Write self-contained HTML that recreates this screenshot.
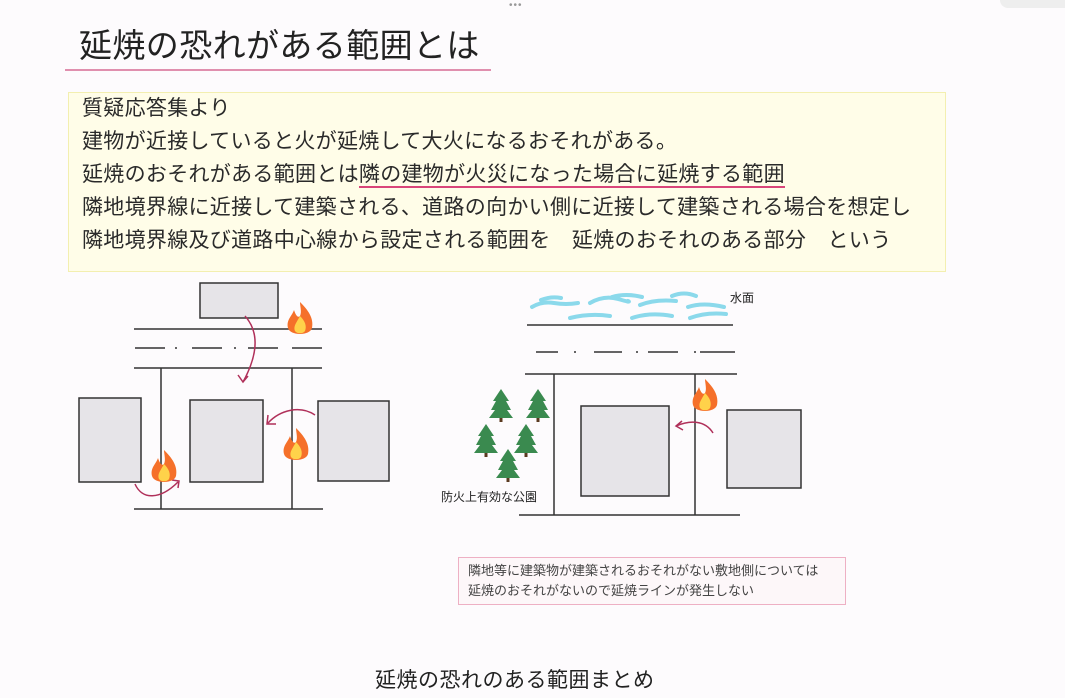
<!DOCTYPE html>
<html><head><meta charset="utf-8"><style>
body{margin:0;width:1065px;height:698px;background:#fdfbfd;overflow:hidden;position:relative;font-family:"Liberation Sans","Noto Sans CJK JP",sans-serif;color:#222}
.t{position:absolute;white-space:nowrap}
</style></head><body>
<div class="t" style="left:509px;top:0;font-size:10px;color:#999;letter-spacing:1px">•••</div>
<div style="position:absolute;left:1000px;top:0;width:65px;height:8px;background:#eee;border-radius:0 0 0 8px"></div>
<div class="t" style="left:79px;top:19px;font-size:33px;letter-spacing:0.4px;color:#222">延焼の恐れがある範囲とは</div>
<div style="position:absolute;left:65px;top:69px;width:426px;height:2px;background:#e08fae"></div>
<div style="position:absolute;left:68px;top:92px;width:876px;height:178px;background:#fffde8;border:1px solid #f3efb0"></div>
<div class="t" style="left:82px;top:92px;font-size:21px;line-height:33px;color:#2a2a2a;letter-spacing:0.3px">質疑応答集より<br>建物が近接していると火が延焼して大火になるおそれがある。<br>延焼のおそれがある範囲とは<span style="border-bottom:2px solid #d9457a">隣の建物が火災になった場合に延焼する範囲</span><br>隣地境界線に近接して建築される、道路の向かい側に近接して建築される場合を想定し<br>隣地境界線及び道路中心線から設定される範囲を　延焼のおそれのある部分　という</div>
<svg width="1065" height="698" style="position:absolute;left:0;top:0" >
<defs>
<g id="fl"><path d="M0,-20 C8,-12 14,-4 12,6 C10,14 -10,14 -12,6 C-14,-2 -8,-6 -6,-12 C-4,-6 -2,-4 0,-6 C2,-10 0,-16 0,-20Z" fill="#f5702a"/><path d="M0,-6 C5,-1 7,4 5,9 C3,12 -3,12 -5,9 C-7,4 -3,0 0,-6Z" fill="#ffd24a"/></g>
<g id="tr"><path d="M0,-16 L-8,-4 L-5,-4 L-10,5 L-6,5 L-12,13 L12,13 L6,5 L10,5 L5,-4 L8,-4Z" fill="#3a8a4f"/><rect x="-1.5" y="13" width="3" height="4" fill="#5a3a20"/></g>
</defs>
<g stroke="#333" stroke-width="1.5" fill="#e6e4e8">
<rect x="200" y="283" width="78" height="35"/>
<rect x="79" y="398" width="62" height="84"/>
<rect x="190" y="400" width="73" height="82"/>
<rect x="318" y="401" width="71" height="80"/>
<rect x="581" y="406" width="88" height="90"/>
<rect x="727" y="410" width="74" height="78"/>
</g>
<g stroke="#333" stroke-width="1.5" fill="none">
<line x1="134" y1="329" x2="322" y2="329"/><line x1="134" y1="368" x2="322" y2="368"/>
<line x1="161" y1="368" x2="161" y2="509"/><line x1="292" y1="368" x2="292" y2="509"/>
<line x1="134" y1="509" x2="323" y2="509"/>
<line x1="527" y1="325" x2="733" y2="325"/><line x1="525" y1="374" x2="737" y2="374"/>
<line x1="554" y1="374" x2="554" y2="515"/><line x1="695" y1="374" x2="695" y2="515"/>
<line x1="519" y1="515" x2="740" y2="515"/>
<path d="M135,348 h30 M175,348 h2 M192,348 h30 M234,348 h2 M248,348 h30 M292,348 h30"/>
<path d="M536,352 h22 M574,352 h2 M594,352 h28 M636,352 h2 M648,352 h30 M694,352 h2 M700,352 h35"/>
</g>
<g stroke="#b0305a" stroke-width="1.5" fill="none">
<path d="M245,316 C262,335 255,360 243,382 M238,375 L243,382 L248,376"/>
<path d="M315,415 C300,405 280,410 268,423 M268,415 L267,424 L276,424"/>
<path d="M135,484 C142,500 160,500 178,482 M172,480 L179,481 L178,488"/>
<path d="M713,433 C705,420 690,420 676,426 M682,421 L676,426 L683,430"/>
</g>
<g stroke="#7fd6ea" stroke-width="4" fill="none" stroke-linecap="round" opacity="0.9">
<path d="M532,307 q10,-6 22,-4 t24,0"/><path d="M541,300 q10,-4 20,-2"/><path d="M590,303 q14,-8 28,-4 t10,2"/>
<path d="M570,318 q20,-5 40,-2"/><path d="M612,297 q14,-4 30,0"/><path d="M640,305 q15,-6 36,-4"/>
<path d="M632,318 q18,-6 40,-2"/><path d="M672,296 q12,-5 24,0"/><path d="M688,307 q15,-5 36,0"/><path d="M690,318 q16,-6 36,-4"/>
</g>
<use href="#fl" x="300" y="322"/><use href="#fl" x="164" y="470"/><use href="#fl" x="296" y="448"/><use href="#fl" x="705" y="399"/>
<use href="#tr" x="501" y="405"/><use href="#tr" x="538" y="405"/><use href="#tr" x="486" y="440"/><use href="#tr" x="526" y="440"/><use href="#tr" x="508" y="465"/>
</svg>
<div class="t" style="left:730px;top:289px;font-size:12px">水面</div>
<div class="t" style="left:441px;top:488px;font-size:12px">防火上有効な公園</div>
<div style="position:absolute;left:458px;top:557px;width:386px;height:46px;background:#fdf7f9;border:1px solid #eeb0c4"></div>
<div class="t" style="left:468px;top:561px;font-size:13px;line-height:20px;color:#444">隣地等に建築物が建築されるおそれがない敷地側については<br>延焼のおそれがないので延焼ラインが発生しない</div>
<div class="t" style="left:375px;top:664px;font-size:21px;letter-spacing:0.5px;color:#222">延焼の恐れのある範囲まとめ</div>
</body></html>
